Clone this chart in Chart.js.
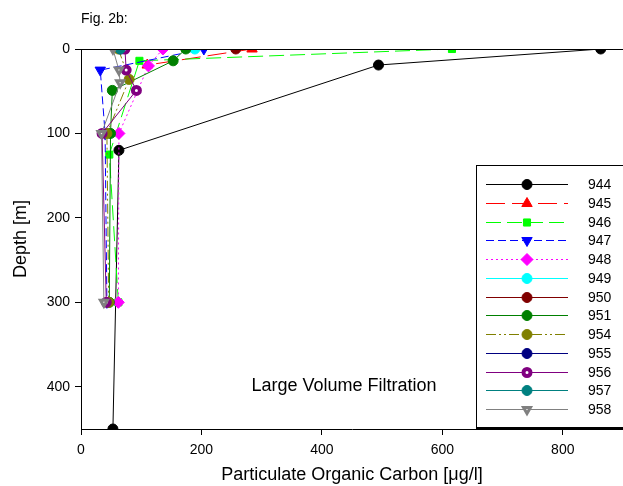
<!DOCTYPE html>
<html>
<head>
<meta charset="utf-8">
<script src="https://cdn.jsdelivr.net/npm/chart.js@4/dist/chart.umd.min.js"></script>
<style>
    html, body { margin: 0; padding: 0; background: #ffffff; }
    canvas { display: block; }
</style>
</head>
<body>
<canvas id="graficoPoc" width="623" height="486"></canvas>
<script>
// estacoes e perfis (profundidade em m, POC em ug/l)
const estacoes = ['944', '945', '946', '947', '948', '949', '950', '951', '954', '955', '956', '957', '958'];

const prof944 = [0, 19, 120, 450];
const poc944 = [863, 494, 63, 53];
const prof945 = [0, 19];
const poc945 = [284, 110];
const prof946 = [0, 14, 125, 300];
const poc946 = [616, 97, 47, 62];
const prof947 = [0, 25, 100, 300];
const poc947 = [204, 32, 40, 43];
const prof948 = [0, 20, 100, 300];
const poc948 = [136, 112, 63, 62];
const prof949 = [0];
const poc949 = [189];
const prof950 = [0];
const poc950 = [257];
const prof951 = [0, 14, 49, 100, 300];
const poc951 = [174, 153, 52, 49, 47];
const prof954 = [0, 36, 100, 300];
const poc954 = [62, 80, 43, 46];
const prof955 = [0];
const poc955 = [66];
const prof956 = [0, 25, 49, 100, 300];
const poc956 = [73, 75, 92, 35, 42];
const prof957 = [0];
const poc957 = [65];
const prof958 = [0, 25, 40, 100, 300];
const poc958 = [53, 63, 65, 34, 38];

const perfis = [
    [prof944, poc944], [prof945, poc945], [prof946, poc946], [prof947, poc947],
    [prof948, poc948], [prof949, poc949], [prof950, poc950], [prof951, poc951],
    [prof954, poc954], [prof955, poc955], [prof956, poc956], [prof957, poc957],
    [prof958, poc958]
];

const ticksX = [0, 200, 400, 600, 800];
const ticksY = [0, 100, 200, 300, 400];

// estilo de cada estacao
const estilos = [
    { cor: '#000000', fundo: '#000000', ponto: 'circle', rot: 0, raio: 5, borda: 1, traco: [] },
    { cor: '#ff0000', fundo: '#ff0000', ponto: 'triangle', rot: 0, raio: 6, borda: 1, traco: [19, 7] },
    { cor: '#00ff00', fundo: '#00ff00', ponto: 'rect', rot: 0, raio: 5, borda: 1, traco: [15, 6] },
    { cor: '#0000ff', fundo: '#0000ff', ponto: 'triangle', rot: 180, raio: 6, borda: 1, traco: [8, 4] },
    { cor: '#ff00ff', fundo: '#ff00ff', ponto: 'rectRot', rot: 0, raio: 6, borda: 1, traco: [2, 3] },
    { cor: '#00ffff', fundo: '#00ffff', ponto: 'circle', rot: 0, raio: 5, borda: 1, traco: [] },
    { cor: '#800000', fundo: '#800000', ponto: 'circle', rot: 0, raio: 5, borda: 1, traco: [] },
    { cor: '#008000', fundo: '#008000', ponto: 'circle', rot: 0, raio: 5, borda: 1, traco: [] },
    { cor: '#808000', fundo: '#808000', ponto: 'circle', rot: 0, raio: 5, borda: 1, traco: [10, 3, 2, 3, 2, 3] },
    { cor: '#000080', fundo: '#000080', ponto: 'circle', rot: 0, raio: 5, borda: 1, traco: [] },
    { cor: '#800080', fundo: '#ffffff', ponto: 'circle', rot: 0, raio: 3.5, borda: 4, traco: [] },
    { cor: '#008080', fundo: '#008080', ponto: 'circle', rot: 0, raio: 5, borda: 1, traco: [] },
    { cor: '#808080', fundo: '#ffffff', ponto: 'triangle', rot: 180, raio: 4, borda: 3, traco: [] }
];

const fonte = '"Liberation Sans", Arial, sans-serif';
Chart.defaults.font.family = fonte;
Chart.defaults.color = '#000000';

const datasets = estacoes.map(function (nome, i) {
    const prof = perfis[i][0];
    const poc = perfis[i][1];
    const e = estilos[i];
    return {
        label: nome,
        data: poc.map((v, k) => ({ x: v, y: prof[k] })),
        showLine: true,
        borderColor: e.cor,
        borderWidth: 1,
        borderDash: e.traco,
        pointStyle: e.ponto,
        rotation: e.rot,
        pointRadius: e.raio,
        pointBorderWidth: e.borda,
        pointBackgroundColor: e.fundo,
        pointBorderColor: e.cor,
        order: estacoes.length - i  // ultimas estacoes por cima
    };
});

// linha do topo, caixa de legenda e textos
const moldura = {
    id: 'moldura',
    afterDraw(chart) {
        const ctx = chart.ctx;
        const area = chart.chartArea;
        ctx.save();
        ctx.strokeStyle = '#000000';
        ctx.lineWidth = 1;
        ctx.setLineDash([]);
        ctx.beginPath();
        ctx.moveTo(area.left, Math.round(area.top) + 0.5);
        ctx.lineTo(area.right, Math.round(area.top) + 0.5);
        ctx.stroke();

        // legenda
        ctx.fillStyle = '#ffffff';
        ctx.fillRect(476, 165, 160, 263);
        ctx.strokeRect(476.5, 165.5, 160, 262);
        ctx.lineWidth = 2;
        ctx.beginPath();
        ctx.moveTo(476, 428);
        ctx.lineTo(636, 428);
        ctx.stroke();

        chart.data.datasets.forEach(function (ds, i) {
            const y = Math.round(184 + i * 18.75) + 0.5;
            ctx.lineWidth = 1;
            ctx.strokeStyle = ds.borderColor;
            ctx.setLineDash(ds.borderDash);
            ctx.beginPath();
            ctx.moveTo(486, y);
            ctx.lineTo(568, y);
            ctx.stroke();
            ctx.setLineDash([]);
            ctx.fillStyle = ds.pointBackgroundColor;
            ctx.strokeStyle = ds.pointBorderColor;
            ctx.lineWidth = ds.pointBorderWidth;
            Chart.helpers.drawPoint(ctx, {
                pointStyle: ds.pointStyle,
                rotation: ds.rotation,
                radius: ds.pointRadius,
                borderWidth: ds.pointBorderWidth
            }, 527, y);
            ctx.fillStyle = '#000000';
            ctx.font = '14px ' + fonte;
            ctx.textBaseline = 'middle';
            ctx.textAlign = 'left';
            ctx.fillText(ds.label, 588, y + 1);
        });

        ctx.fillStyle = '#000000';
        ctx.font = '14px ' + fonte;
        ctx.textAlign = 'left';
        ctx.textBaseline = 'middle';
        ctx.fillText('Fig. 2b:', 81, 19);

        ctx.font = '18px ' + fonte;
        ctx.textAlign = 'center';
        ctx.fillText('Large Volume Filtration', 344, 386);
        ctx.restore();
    }
};

new Chart(document.getElementById('graficoPoc').getContext('2d'), {
    type: 'scatter',
    data: { datasets: datasets },
    options: {
        responsive: false,
        animation: false,
        layout: { autoPadding: false, padding: { top: 49, right: 0, left: 0, bottom: 0 } },
        scales: {
            x: {
                type: 'linear',
                min: 0,
                max: 900,
                afterFit: function (s) { s.height = 57; },
                afterBuildTicks: function (s) { s.ticks = ticksX.map(v => ({ value: v })); },
                ticks: { font: { size: 14 }, padding: 7, color: '#000000' },
                grid: { drawOnChartArea: false, drawTicks: true, tickLength: 6, color: '#000000' },
                border: { color: '#000000', width: 1 },
                title: {
                    display: true,
                    text: 'Particulate Organic Carbon [\u03bcg/l]',
                    color: '#000000',
                    font: { size: 18 },
                    padding: { top: 6, bottom: 0 }
                }
            },
            y: {
                type: 'linear',
                reverse: true,
                min: 0,
                max: 450,
                afterFit: function (s) { s.width = 81; },
                afterBuildTicks: function (s) { s.ticks = ticksY.map(v => ({ value: v })); },
                ticks: { font: { size: 14 }, padding: 5, color: '#000000' },
                grid: { drawOnChartArea: false, drawTicks: true, tickLength: 6, color: '#000000' },
                border: { color: '#000000', width: 1 },
                title: {
                    display: true,
                    text: 'Depth [m]',
                    color: '#000000',
                    font: { size: 18 },
                    padding: { top: 10, bottom: 4 }
                }
            }
        },
        plugins: {
            legend: { display: false },
            tooltip: { enabled: false },
            title: { display: false }
        }
    },
    plugins: [moldura]
});
</script>
</body>
</html>
